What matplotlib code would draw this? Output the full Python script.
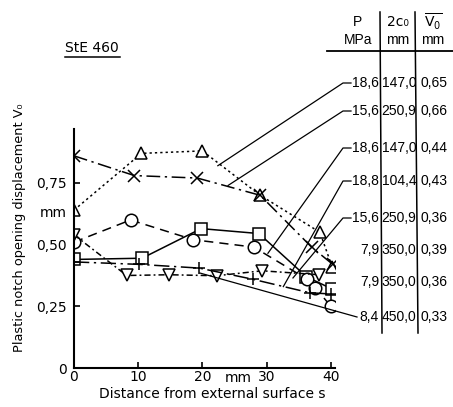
import matplotlib
matplotlib.use("Agg")
import matplotlib.pyplot as plt

W, H = 453, 407

# distance from external surface s (mm) / plastic notch opening V0 (mm)
tri_up_s = [0, 10.5, 20, 29, 38.3, 40.2]
tri_up_v = [0.64, 0.87, 0.88, 0.70, 0.55, 0.41]
cross_s = [0, 9.4, 19.2, 29, 37, 40.3]
cross_v = [0.86, 0.78, 0.77, 0.70, 0.49, 0.42]
square_s = [0, 10.6, 19.8, 28.8, 36.2, 40.2]
square_v = [0.44, 0.445, 0.565, 0.545, 0.37, 0.32]
circle_s = [0, 8.8, 18.6, 28, 36.3, 37.6, 40]
circle_v = [0.51, 0.60, 0.52, 0.49, 0.36, 0.325, 0.25]
tri_dn_s = [0, 8.2, 14.8, 22.2, 29.3, 38.2]
tri_dn_v = [0.54, 0.375, 0.378, 0.374, 0.394, 0.378]
plus_s = [0, 10.2, 19.5, 27.8, 36.7, 40]
plus_v = [0.43, 0.42, 0.405, 0.36, 0.305, 0.30]

# table on the right
p_mpa = ["18,6", "15,6", "18,6", "18,8", "15,6", "7,9", "7,9", "8,4"]
c0_mm = ["147,0", "250,9", "147,0", "104,4", "250,9", "350,0", "350,0", "450,0"]
v0_mm = ["0,65", "0,66", "0,44", "0,43", "0,36", "0,39", "0,36", "0,33"]
# where each row's leader line touches the curves (data coords), None = no leader
lead_s = [22.4, 24.0, 30.2, 32.6, 34.1, None, None, 19.6]
lead_v = [0.82, 0.74, 0.465, 0.33, 0.365, None, None, 0.385]

xticks = [0, 10, 20, 30, 40]
yticks = [0, 0.25, 0.5, 0.75]
ytick_labels = ["0", "0,25", "0,50", "0,75"]

FS = 10
fig = plt.figure(figsize=(W / 100, H / 100), dpi=100)
ax = fig.add_axes([74 / W, 39 / H, 260.7 / W, 239.3 / H])
ax.set_xlim(0, 40.6)
ax.set_ylim(0, 0.97)
ax.patch.set_alpha(0)
for side in ("top", "right"):
    ax.spines[side].set_visible(False)
for side in ("left", "bottom"):
    ax.spines[side].set_linewidth(1.5)

lw = 1.1
mk = dict(markerfacecolor="white", markeredgecolor="black", markeredgewidth=1.1, color="black")
ax.plot(tri_up_s, tri_up_v, ls=(0, (1.5, 2)), lw=lw, marker="^", ms=9, **mk)
ax.plot(cross_s, cross_v, ls=(0, (9, 3, 1.5, 3)), lw=lw, marker="x", ms=8, **mk)
ax.plot(square_s, square_v, ls="-", lw=lw, marker="s", ms=9, **mk)
ax.plot(circle_s, circle_v, ls=(0, (6, 4)), lw=lw, marker="o", ms=9, **mk)
ax.plot(tri_dn_s, tri_dn_v, ls=(0, (4, 2, 1.2, 2)), lw=lw, marker="v", ms=9, **mk)
ax.plot(plus_s, plus_v, ls=(0, (10, 3, 1.5, 3)), lw=lw, marker="+", ms=9, **mk)

ax.set_xticks(xticks)
ax.set_xticklabels([str(t) for t in xticks])
ax.set_yticks(yticks)
ax.set_yticklabels(ytick_labels)
ax.tick_params(direction="in", length=4, width=1.2, labelsize=FS, pad=5)
ax.tick_params(axis="x", pad=1.5)
ax.text(25.6, -0.012, "mm", ha="center", va="top", fontsize=FS)
ax.text(-1.2, 0.63, "mm", ha="right", va="center", fontsize=FS)
ax.set_xlabel("Distance from external surface s", fontsize=FS, labelpad=2, x=0.53)
fig.text(20 / W, 1 - 228 / H, "Plastic notch opening displacement V\u2080",
         rotation=90, ha="center", va="center", fontsize=9.3)

# overlay in pixel coordinates for the table, leaders and title
ov = fig.add_axes([0, 0, 1, 1])
ov.set_xlim(0, W)
ov.set_ylim(H, 0)
ov.axis("off")
ov.patch.set_alpha(0)

ov.text(92, 48, "StE 460", ha="center", va="center", fontsize=FS)
ov.plot([65, 120], [57, 57], color="black", lw=1.1)

tf = dict(fontsize=10, va="center", family="Liberation Sans")
ov.text(358, 22, "P", ha="center", **tf)
ov.text(358, 40, "MPa", ha="center", **tf)
ov.text(398, 22, "2c\u2080", ha="center", fontsize=10, va="center")
ov.text(398, 40, "mm", ha="center", **tf)
ov.text(433, 22, r"$\overline{\mathrm{V_0}}$", ha="center", va="center", fontsize=FS)
ov.text(433, 40, "mm", ha="center", **tf)
ov.plot([327, 453], [51, 51], color="black", lw=1.3)
ov.plot([380, 382], [12, 333], color="black", lw=1.1)
ov.plot([415, 418], [12, 333], color="black", lw=1.1)

row_y = [83, 111, 148, 181, 218, 250, 282, 317]
for i, y in enumerate(row_y):
    ov.text(379, y, p_mpa[i], ha="right", **tf)
    ov.text(399, y, c0_mm[i], ha="center", **tf)
    ov.text(434, y, v0_mm[i], ha="center", **tf)
    if lead_s[i] is None:
        continue
    dx, dy = ax.transData.transform((lead_s[i], lead_v[i]))
    tx, ty = dx, H - dy
    if i == len(row_y) - 1:
        ov.plot([357, tx], [y, ty], color="black", lw=0.9)
    else:
        ov.plot([351, 343, tx], [y, y, ty], color="black", lw=0.9)

fig.savefig("out.png", dpi=100)
